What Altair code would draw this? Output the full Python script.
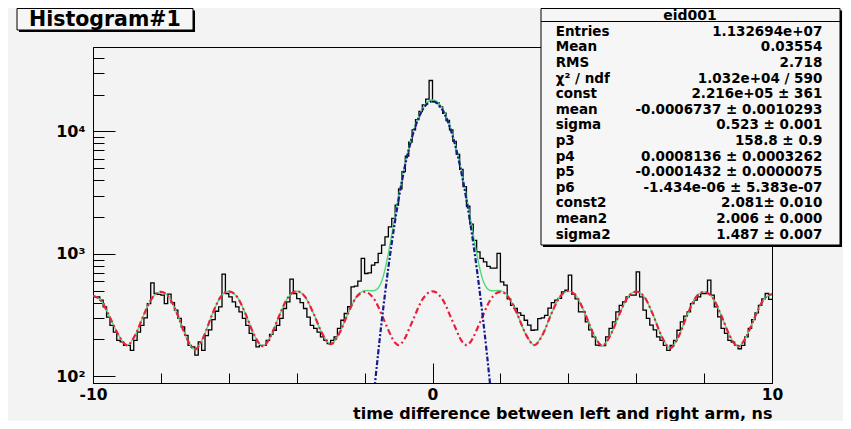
import altair as alt
import numpy as np
import pandas as pd

# ---------------- data ----------------
bin_lo, bin_hi, n_bins = -10.0, 10.0, 200
hist_counts = [
    446, 446, 419, 369, 305, 261, 230, 197, 191, 179,
    179, 163, 197, 230, 261, 300, 393, 580, 475, 468,
    460, 393, 470, 400, 347, 297, 253, 216, 179, 174,
    149, 191, 163, 215, 240, 290, 340, 369, 684, 475,
    446, 405, 369, 336, 297, 261, 224, 197, 174, 179,
    179, 197, 220, 238, 261, 297, 358, 405, 622, 475,
    432, 400, 358, 305, 261, 246, 230, 210, 197, 185,
    197, 210, 246, 287, 326, 370, 537, 545, 600, 918,
    692, 700, 810, 850, 1010, 1180, 1380, 1660, 1950, 2500,
    3400, 4700, 6300, 8200, 10300, 12500, 14600, 16500, 18400, 26100,
    17500, 17100, 15900, 14100, 12300, 10300, 8300, 6500, 4900, 3550,
    2450, 1750, 1290, 1040, 920, 860, 790, 765, 765, 1010,
    590, 555, 430, 380, 358, 330, 315, 287, 262, 238,
    240, 296, 300, 315, 360, 400, 420, 433, 490, 505,
    672, 470, 430, 336, 336, 278, 240, 210, 180, 178,
    178, 210, 246, 278, 336, 380, 405, 446, 460, 460,
    714, 446, 347, 297, 262, 240, 210, 197, 179, 163,
    179, 197, 238, 278, 310, 336, 393, 420, 446, 475,
    475, 610, 460, 369, 306, 246, 224, 197, 190, 179,
    168, 179, 210, 246, 290, 330, 380, 430, 475, 425,
]

# sample positions of the fitted curves
fit_x_left = [round(v, 2) for v in np.arange(-10.0, -2.1, 0.25)]      # -10 .. -2.25
fit_x_mid = [round(v, 2) for v in np.arange(-2.0, 2.05, 0.1)]        # -2.0 .. 2.0
fit_x_right = [round(v, 2) for v in np.arange(2.25, 10.01, 0.25)]    # 2.25 .. 10
fit_x = fit_x_left + fit_x_mid + fit_x_right

# background component (red dash-dot)
bkg_left = [455, 411, 302, 218, 179, 219, 320, 440, 490, 438, 313, 207,
            165, 208, 315, 442, 495, 444, 320, 217, 176, 217, 320, 444,
            495, 445, 324, 224, 183, 223, 321, 441]
bkg_mid = [490, 481, 456, 419, 372, 320, 276, 239, 208, 188, 180,
           188, 208, 240, 278, 322, 375, 423, 460, 486, 495,
           486, 460, 423, 375, 322, 278, 240, 208, 188, 180,
           188, 208, 239, 276, 320, 372, 419, 456, 481, 490]
bkg_right = [440, 320, 220, 180, 221, 324, 446, 497, 446, 322, 219, 178,
             219, 320, 442, 492, 441, 316, 212, 170, 212, 315, 439, 490,
             440, 317, 216, 175, 213, 307, 423, 470]
bkg_values = bkg_left + bkg_mid + bkg_right

# total fit (green) in the central region; elsewhere it lies under the background curve
total_mid = [501, 503, 500, 503, 527, 595, 745, 1012, 1436, 2066, 2950,
             4123, 5598, 7350, 9323, 11402, 13465, 15323, 16810, 17766, 18095,
             17766, 16810, 15323, 13465, 11402, 9323, 7350, 5598, 4123, 2950,
             2066, 1436, 1012, 745, 595, 527, 503, 500, 503, 501]
total_values = bkg_left + total_mid + bkg_right

# gaussian component (blue dash-dot)
gaus_x = [round(v, 2) for v in np.arange(-1.8, 1.85, 0.1)]
gaus_values = [44, 84, 155, 275, 469, 773, 1228, 1878, 2770, 3935, 5390, 7110,
               9045, 11080, 13090, 14900, 16350, 17280, 17600,
               17280, 16350, 14900, 13090, 11080, 9045, 7110, 5390, 3935,
               2770, 1878, 1228, 773, 469, 275, 155, 84, 44]

# statistics box text
stat_title = "eid001"
stat_labels = ["Entries", "Mean", "RMS", "χ² / ndf", "const", "mean", "sigma",
               "p3", "p4", "p5", "p6", "const2", "mean2", "sigma2"]
stat_values = ["1.132694e+07", "0.03554", "2.718", "1.032e+04 / 590",
               "2.216e+05 ± 361", "-0.0006737 ± 0.0010293", "0.523 ± 0.001",
               "158.8 ± 0.9", "0.0008136 ± 0.0003262", "-0.0001432 ± 0.0000075",
               "-1.434e-06 ± 5.383e-07", "2.081± 0.010", "2.006 ± 0.000",
               "1.487 ± 0.007"]
hist_title = "Histogram#1"
x_title = "time difference between left and right arm, ns"

# axis ticks
x_ticks = list(range(-10, 11))
y_ticks = ([m * 100 for m in range(1, 10)] + [m * 1000 for m in range(1, 10)]
           + [m * 10000 for m in range(1, 5)])

# ---------------- tables ----------------
edges = [round(bin_lo + i * (bin_hi - bin_lo) / n_bins, 3) for i in range(n_bins)] + [bin_hi]
hist_df = pd.DataFrame({"x": edges, "y": hist_counts + [hist_counts[-1]]})
bkg_df = pd.DataFrame({"x": fit_x, "y": bkg_values})
tot_df = pd.DataFrame({"x": fit_x, "y": total_values})
gaus_df = pd.DataFrame({"x": gaus_x, "y": gaus_values})
stats_df = pd.DataFrame({"label": stat_labels, "value": stat_values,
                         "i": list(range(len(stat_labels)))})

FONT = "DejaVu Sans"
BG = "#f3f3f3"
BOXFILL = "#f6f6f6"

xscale = alt.Scale(domain=[-10, 10], nice=False, zero=False)
yscale = alt.Scale(type="log", domain=[88.2, 49000], nice=False)

x_axis = alt.Axis(
    values=x_ticks,
    labelExpr="datum.value % 5 == 0 ? '' + datum.value : ''",
    tickSize={"condition": {"test": "datum.value % 5 == 0", "value": -20}, "value": -10},
    tickColor="black", tickWidth=1, domainColor="black", domainWidth=1,
    labelFont=FONT, labelFontSize=15.5, labelFontWeight="bold", labelColor="black",
    labelFlush=False, labelOverlap=False, labelPadding=24,
    title=x_title, titleFont=FONT, titleFontSize=16, titleFontWeight="bold",
    titleColor="black", titleAnchor="end", titleAlign="right",
    titleBaseline="alphabetic", titleY=35, grid=False,
)
y_axis = alt.Axis(
    values=y_ticks,
    labelExpr="datum.value == 100 ? '10²' : datum.value == 1000 ? '10³' : datum.value == 10000 ? '10⁴' : ''",
    tickSize={"condition": {"test": "datum.value == 100 || datum.value == 1000 || datum.value == 10000",
                            "value": -22}, "value": -11},
    tickColor="black", tickWidth=1, domainColor="black", domainWidth=1,
    labelFont=FONT, labelFontSize=16, labelFontWeight="bold", labelColor="black",
    labelOverlap=False, labelPadding=30, title=None, grid=False,
)

hist = alt.Chart(hist_df).mark_line(
    interpolate="step-after", color="black", strokeWidth=1.3, clip=True
).encode(x=alt.X("x:Q", scale=xscale, axis=x_axis),
         y=alt.Y("y:Q", scale=yscale, axis=y_axis))

green = alt.Chart(tot_df).mark_line(
    interpolate="monotone", color="#4fdc78", strokeWidth=1.4, clip=True
).encode(x=alt.X("x:Q", scale=xscale), y=alt.Y("y:Q", scale=yscale))

red = alt.Chart(bkg_df).mark_line(
    interpolate="monotone", color="#e8203c", strokeWidth=2.2,
    strokeDash=[6, 3, 2, 3], clip=True
).encode(x=alt.X("x:Q", scale=xscale), y=alt.Y("y:Q", scale=yscale))

blue = alt.Chart(gaus_df).mark_line(
    interpolate="monotone", color="#151a8c", strokeWidth=2.2,
    strokeDash=[5, 2, 2, 2], clip=True
).encode(x=alt.X("x:Q", scale=xscale), y=alt.Y("y:Q", scale=yscale))

one = alt.Data(values=[{"k": 0}])

# title box (pixel positions relative to plot origin)
tbox_shadow = alt.Chart(one).mark_rect(color="black").encode(
    x=alt.value(-74), x2=alt.value(102), y=alt.value(-36.5), y2=alt.value(-15))
tbox = alt.Chart(one).mark_rect(fill=BOXFILL, stroke="black", strokeWidth=1).encode(
    x=alt.value(-76), x2=alt.value(100), y=alt.value(-38.5), y2=alt.value(-17))
ttext = alt.Chart(one).mark_text(
    text=hist_title, align="left", baseline="middle", font=FONT, fontSize=20.5,
    fontWeight="bold", color="black").encode(x=alt.value(-64), y=alt.value(-27))

# statistics box
sbox_shadow = alt.Chart(one).mark_rect(color="black").encode(
    x=alt.value(450), x2=alt.value(749), y=alt.value(-36.5), y2=alt.value(200))
sbox = alt.Chart(one).mark_rect(fill=BOXFILL, stroke="black", strokeWidth=1).encode(
    x=alt.value(448), x2=alt.value(747), y=alt.value(-38.5), y2=alt.value(198))
sep = alt.Chart(one).mark_rule(color="black", strokeWidth=1).encode(
    x=alt.value(448), x2=alt.value(747), y=alt.value(-25.5))
shead = alt.Chart(one).mark_text(
    text=stat_title, align="center", baseline="middle", font=FONT, fontSize=14,
    fontWeight="bold", color="black").encode(x=alt.value(597), y=alt.value(-31))

stat_base = alt.Chart(stats_df).transform_calculate(py="-15.3 + 15.6 * datum.i")
slabels = stat_base.mark_text(
    align="left", baseline="middle", font=FONT, fontSize=13.5, fontWeight="bold",
    color="black").encode(x=alt.value(462.7), y=alt.Y("py:Q", scale=None, axis=None),
                          text="label:N")
svalues = stat_base.mark_text(
    align="right", baseline="middle", font=FONT, fontSize=13.5, fontWeight="bold",
    color="black").encode(x=alt.value(729.3), y=alt.Y("py:Q", scale=None, axis=None),
                          text="value:N")

chart = alt.layer(
    hist, green, red, blue,
    tbox_shadow, tbox, ttext,
    sbox_shadow, sbox, sep, shead, slabels, svalues,
).properties(
    width=679, height=336,
    padding={"left": 85, "top": 39, "right": 71, "bottom": 38},
    autosize=alt.AutoSizeParams(type="none"),
    background=BG,
).configure_view(stroke="black", strokeWidth=1, fill=BG)

chart.save("out.html", embed_options={"renderer": "svg", "actions": False})
